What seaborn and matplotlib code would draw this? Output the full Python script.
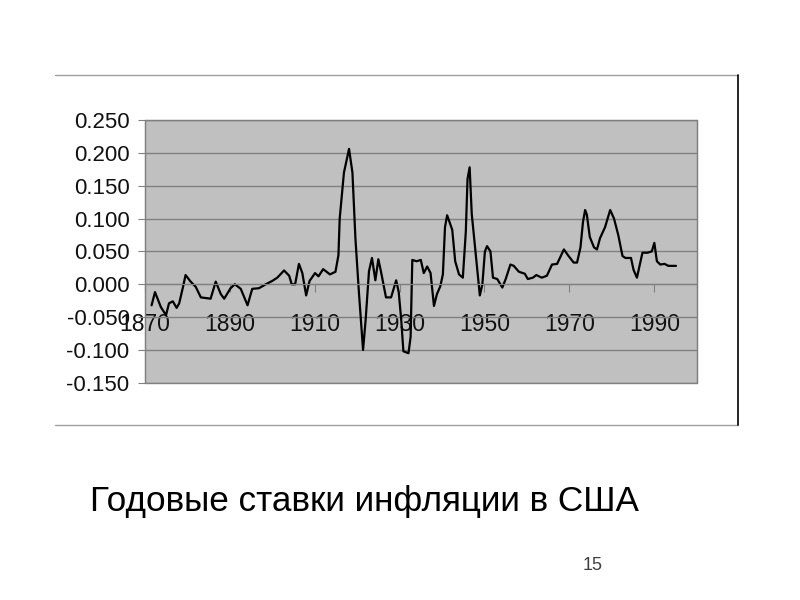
import matplotlib
matplotlib.use('Agg')
import matplotlib.pyplot as plt
import seaborn as sns
from matplotlib.lines import Line2D
from matplotlib.patches import Rectangle

# values (smoothed Excel line)
years = [1871.6, 1872.4, 1873.8, 1875.0, 1875.7, 1876.6, 1877.5, 1878.1, 1879.0, 1879.6,
         1880.8, 1882.0, 1883.2, 1885.5, 1886.7, 1887.9, 1888.7, 1890.2, 1891.2, 1892.6,
         1894.2, 1895.3, 1896.9, 1898.5, 1900.0, 1901.2, 1902.8, 1904.0, 1904.6, 1905.4,
         1906.3, 1907.1, 1908.0, 1908.8, 1910.1, 1910.9, 1912.0, 1913.6, 1914.9, 1915.6,
         1915.9, 1916.9, 1918.1, 1918.9, 1919.6, 1920.4, 1921.4, 1922.0, 1922.8, 1923.5,
         1924.3, 1925.0, 1925.6, 1926.8, 1928.0, 1929.2, 1929.8, 1930.4, 1930.9, 1932.1,
         1932.6, 1933.0, 1934.0, 1935.0, 1935.7, 1936.5, 1937.3, 1938.1, 1938.8, 1939.6,
         1940.2, 1940.7, 1941.2, 1942.4, 1943.1, 1944.0, 1944.9, 1945.6, 1946.0, 1946.5,
         1947.0, 1948.0, 1948.9, 1949.5, 1950.1, 1950.6, 1951.4, 1952.0, 1953.0, 1954.2,
         1955.0, 1956.1, 1956.9, 1958.1, 1959.5, 1960.2, 1961.4, 1962.2, 1963.5, 1964.7,
         1965.9, 1967.1, 1968.7, 1969.8, 1971.0, 1971.8, 1972.6, 1973.2, 1973.7, 1974.1,
         1974.8, 1975.8, 1976.5, 1977.2, 1978.4, 1979.6, 1980.5, 1981.5, 1982.5, 1983.2,
         1984.5, 1985.1, 1985.9, 1986.7, 1987.2, 1988.4, 1989.4, 1990.0, 1990.6, 1991.4,
         1992.4, 1993.3, 1995.1]
rates = [-0.032, -0.012, -0.035, -0.047, -0.029, -0.026, -0.036, -0.029, -0.004, 0.014,
         0.004, -0.004, -0.020, -0.022, 0.004, -0.015, -0.022, -0.006, 0.000, -0.007,
         -0.032, -0.007, -0.006, 0.000, 0.005, 0.010, 0.021, 0.013, 0.000, 0.000,
         0.031, 0.017, -0.017, 0.005, 0.017, 0.012, 0.023, 0.015, 0.019, 0.044,
         0.100, 0.170, 0.206, 0.170, 0.070, -0.010, -0.100, -0.055, 0.020, 0.040,
         0.006, 0.038, 0.020, -0.020, -0.020, 0.006, -0.012, -0.055, -0.102, -0.105,
         -0.080, 0.037, 0.035, 0.037, 0.017, 0.027, 0.017, -0.033, -0.015, -0.003,
         0.015, 0.087, 0.105, 0.083, 0.035, 0.015, 0.010, 0.080, 0.160, 0.178,
         0.107, 0.042, -0.017, 0.000, 0.050, 0.058, 0.050, 0.010, 0.008, -0.005,
         0.008, 0.030, 0.028, 0.019, 0.016, 0.008, 0.010, 0.014, 0.010, 0.013,
         0.030, 0.031, 0.053, 0.043, 0.033, 0.033, 0.056, 0.095, 0.113, 0.106,
         0.072, 0.056, 0.053, 0.070, 0.087, 0.113, 0.100, 0.075, 0.043, 0.040,
         0.040, 0.022, 0.010, 0.033, 0.048, 0.048, 0.050, 0.063, 0.035, 0.030,
         0.031, 0.028, 0.028]

y_ticks = [0.25, 0.2, 0.15, 0.1, 0.05, 0.0, -0.05, -0.1, -0.15]
x_ticks = [1870, 1890, 1910, 1930, 1950, 1970, 1990]
caption = 'Годовые ставки инфляции в США'
page_no = '15'

sns.set_style('white')
plt.rcParams['font.family'] = ['Liberation Sans', 'DejaVu Sans']

fig = plt.figure(figsize=(8, 6), dpi=100)
ax = fig.add_axes([0.181, 0.362, 0.69, 0.438])
ax.set_facecolor('#c0c0c0')

sns.lineplot(x=years, y=rates, ax=ax, color='black', linewidth=1.6)
for ln in ax.get_lines():
    ln.set_solid_joinstyle('round')

ax.set_xlim(1870, 2000)
ax.set_ylim(-0.15, 0.25)
ax.set_yticks(y_ticks)
ax.set_yticklabels([f'{v:.3f}' for v in y_ticks])
ax.set_xticks(x_ticks)
ax.set_xticklabels([str(v) for v in x_ticks])

ax.grid(axis='y', color='#808080', linewidth=1)
ax.set_axisbelow(True)

# Excel style: category axis crosses at zero
for side in ['left', 'right', 'top']:
    ax.spines[side].set_color('#808080')
ax.spines['bottom'].set_position(('data', 0))
ax.spines['bottom'].set_color('#808080')
ax.add_patch(Rectangle((0, 0), 1, 1, transform=ax.transAxes, fill=False,
                       edgecolor='#808080', linewidth=1, clip_on=False))

ax.tick_params(axis='x', bottom=True, direction='out', length=6, color='#808080',
               pad=15, labelsize=16.5, labelcolor='#111111')
ax.tick_params(axis='y', left=True, direction='out', length=5, color='#808080',
               pad=6, labelsize=16, labelcolor='#111111')
ax.set_xlabel('')
ax.set_ylabel('')

# chart frame of the slide
fig.add_artist(Line2D([0.069, 0.9225], [0.875, 0.875], color='#a0a0a0', linewidth=1))
fig.add_artist(Line2D([0.069, 0.9225], [0.2917, 0.2917], color='#a0a0a0', linewidth=1))
fig.add_artist(Line2D([0.9225, 0.9225], [0.2917, 0.875], color='black', linewidth=1.2))

fig.text(0.1125, 0.165, caption, fontsize=25.3, va='center', ha='left', color='black')
fig.text(0.741, 0.058, page_no, fontsize=13, va='center', ha='center', color='#404040')

fig.savefig('out.png', dpi=100)
